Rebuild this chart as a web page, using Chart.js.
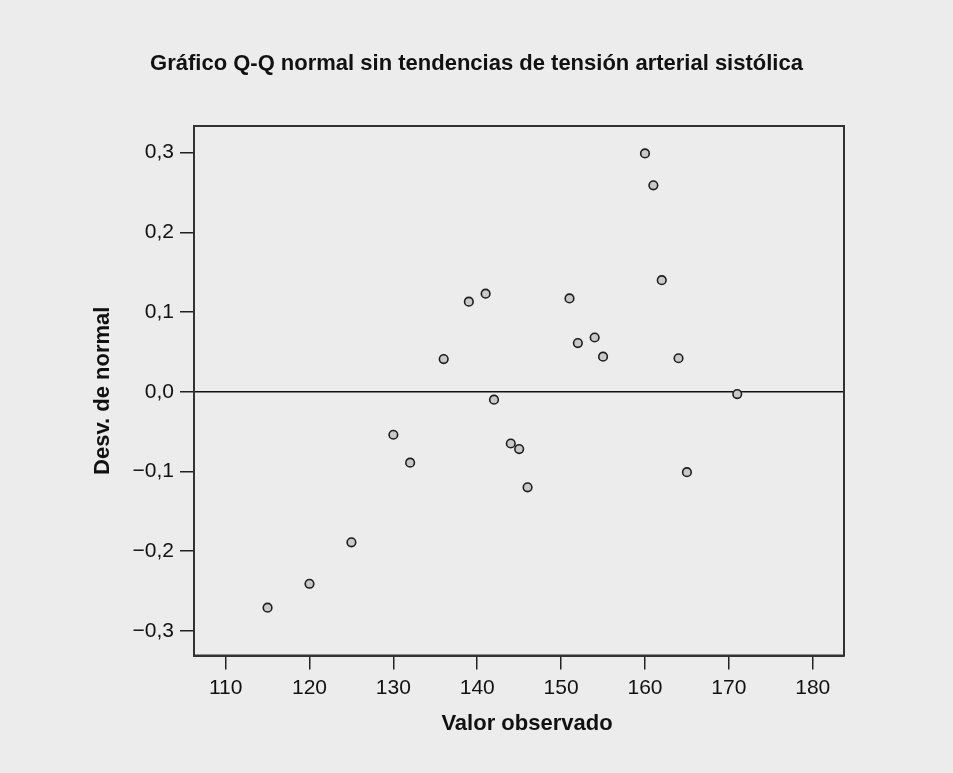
<!DOCTYPE html>
<html>
<head>
<meta charset="utf-8">
<script src="https://cdn.jsdelivr.net/npm/chart.js@4.4.1/dist/chart.umd.min.js"></script>
<style>
  html, body { margin: 0; padding: 0; background: #ececec; }
  canvas { display: block; }
</style>
</head>
<body>
<canvas id="qqChart" width="953" height="773"></canvas>
<script>
// valores observados (x) y desviaciones de la normal (y)
const observed = [115, 120, 125, 130, 132, 136, 139, 141, 142, 144, 145,
                  146, 151, 152, 154, 155, 160, 161, 162, 164, 165, 171];
const deviation = [-0.271, -0.241, -0.189, -0.054, -0.089, 0.041, 0.113, 0.123, -0.010, -0.065, -0.072,
                   -0.120, 0.117, 0.061, 0.068, 0.044, 0.299, 0.259, 0.140, 0.042, -0.101, -0.003];
const xTicks = [110, 120, 130, 140, 150, 160, 170, 180];
const yTicks = [-0.3, -0.2, -0.1, 0.0, 0.1, 0.2, 0.3];

const FONT = "'Liberation Sans', Arial, Helvetica, sans-serif";
const BG = '#ececec';

const points = observed.map((v, i) => ({ x: v, y: deviation[i] }));

const fmtDec = v => (v < -1e-9 ? '\u2212' : '') + Math.abs(v).toFixed(1).replace('.', ',');

const background = {
  id: 'background',
  beforeDraw(chart) {
    const c = chart.ctx;
    c.save();
    c.fillStyle = BG;
    c.fillRect(0, 0, chart.width, chart.height);
    c.restore();
  }
};

// marco completo alrededor del área del gráfico + título del eje x
const frame = {
  id: 'frame',
  beforeDatasetsDraw(chart) {
    const { ctx, chartArea: a } = chart;
    ctx.save();
    ctx.strokeStyle = '#333';
    ctx.lineWidth = 2;
    ctx.strokeRect(a.left, a.top, a.right - a.left, a.bottom - a.top);
    ctx.restore();
  },
  afterDraw(chart) {
    const { ctx, chartArea: a } = chart;
    ctx.save();
    ctx.font = 'bold 22px ' + FONT;
    ctx.fillStyle = '#111';
    ctx.textAlign = 'center';
    ctx.textBaseline = 'middle';
    ctx.fillText('Valor observado', (a.left + a.right) / 2 + 8, 724);
    ctx.restore();
  }
};

const ctx = document.getElementById('qqChart').getContext('2d');
const qqChart = new Chart(ctx, {
  type: 'scatter',
  data: {
    datasets: [{
      data: points,
      pointRadius: 4.3,
      pointHoverRadius: 4.3,
      pointBackgroundColor: '#c9c9c9',
      pointBorderColor: '#1e1e1e',
      pointBorderWidth: 1.6
    }]
  },
  options: {
    responsive: false,
    animation: false,
    devicePixelRatio: 1,
    layout: { padding: { left: 88, right: 88, top: 0, bottom: 36 } },
    plugins: {
      legend: { display: false },
      tooltip: { enabled: false },
      title: {
        display: true,
        text: 'Gráfico Q-Q normal sin tendencias de tensión arterial sistólica',
        color: '#111',
        font: { family: FONT, size: 22, weight: 'bold' },
        padding: { top: 50.5, bottom: 49.1 }
      }
    },
    scales: {
      x: {
        type: 'linear',
        min: 106.23,
        max: 183.73,
        afterBuildTicks: s => { s.ticks = xTicks.map(v => ({ value: v })); },
        afterFit: s => { s.height = 81.5; },
        ticks: {
          color: '#111',
          padding: 6,
          font: { family: FONT, size: 21 },
          callback: v => String(v)
        },
        grid: {
          drawOnChartArea: false,
          tickLength: 14,
          tickColor: '#222',
          lineWidth: 1.5
        },
        border: { display: true, color: '#333', width: 2 }
      },
      y: {
        type: 'linear',
        min: -0.331,
        max: 0.3334,
        afterBuildTicks: s => { s.ticks = yTicks.map(v => ({ value: v })); },
        afterFit: s => { s.width = 106; },
        ticks: {
          color: '#111',
          padding: 6,
          font: { family: FONT, size: 21 },
          callback: v => fmtDec(v)
        },
        grid: {
          drawOnChartArea: true,
          tickLength: 14,
          tickColor: '#222',
          lineWidth: 1.5,
          color: c => (c.tick && Math.abs(c.tick.value) < 1e-9) ? '#111' : 'rgba(0,0,0,0)'
        },
        border: { display: true, color: '#333', width: 2 },
        title: {
          display: true,
          text: 'Desv. de normal',
          color: '#111',
          font: { family: FONT, size: 22, weight: 'bold' },
          padding: { top: 2, bottom: 0 }
        }
      },
      // eje derecho vacío: solo reserva espacio para centrar el título
      yRight: {
        type: 'linear',
        position: 'right',
        display: true,
        afterFit: s => { s.width = 21; },
        ticks: { display: false },
        grid: { display: false },
        border: { display: false }
      }
    }
  },
  plugins: [background, frame]
});
</script>
</body>
</html>
